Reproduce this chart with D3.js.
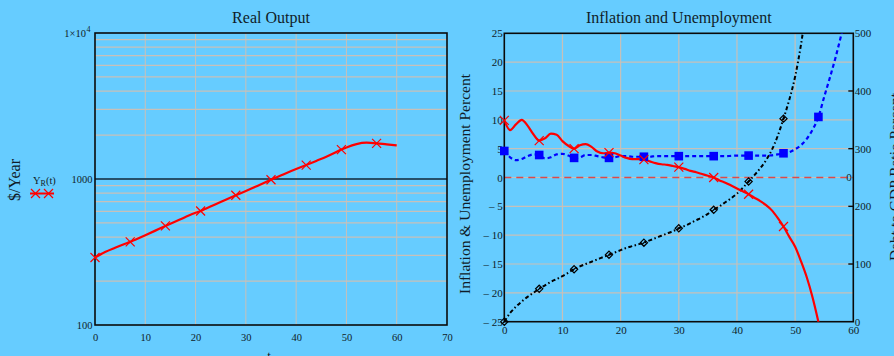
<!DOCTYPE html>
<html>
<head>
<meta charset="utf-8">
<script src="https://cdn.jsdelivr.net/npm/d3@7"></script>
<style>
  html, body { margin: 0; padding: 0; background: #66ccff; }
  svg { display: block; }
  text { font-family: "Liberation Serif", "Times New Roman", serif; fill: #101c28; }
</style>
</head>
<body>
<svg id="chart" width="894" height="356"></svg>
<script>
// ---- Real output Y_R(t), $/Year (log scale) ----
const outputT = [0, 2, 4, 6, 7, 8, 10, 12, 14, 16, 18, 20, 21, 22, 24, 26, 28, 30, 32, 34, 35, 36, 38, 40, 42, 44, 46, 48, 49, 50, 52, 54, 56, 58, 60];
const outputY = [290, 316, 338, 360, 371, 384, 412, 443, 477, 512, 550, 588, 604, 626, 672, 722, 774, 828, 888, 952, 988, 1022, 1096, 1170, 1246, 1330, 1420, 1530, 1590, 1645, 1735, 1772, 1756, 1725, 1698];
const outputXTicks = [0, 10, 20, 30, 40, 50, 60, 70];
const outputYTicks = [100, 1000, 10000];

// ---- Inflation, unemployment (percent) and debt to GDP ratio (percent) ----
const yearT = d3.range(0, 61);
const inflation = [9.9, 8.2, 9.2, 10.0, 9.0, 7.5, 6.4, 6.8, 7.6, 7.4, 6.3, 5.5, 5.0, 5.6, 5.8, 5.3, 4.5, 4.2, 4.3, 4.2,
                   3.8, 3.4, 3.2, 3.2, 3.1, 2.8, 2.5, 2.3, 2.2, 2.0, 1.8, 1.5, 1.15, 0.9, 0.6, 0.3, 0.0, -0.5, -0.9, -1.4,
                   -1.9, -2.4, -2.9, -3.5, -4.1, -4.8, -5.7, -7.0, -8.5, -10.3, -12.0, -14.5, -17.3, -20.8, -25.0, -29.5];
const unemployment = [4.6, 3.5, 3.0, 3.2, 3.7, 4.0, 3.9, 3.3, 3.5, 4.0, 4.1, 3.8, 3.4, 3.5, 3.9, 3.9, 3.7, 3.5, 3.4, 3.5,
                      3.7, 3.7, 3.6, 3.6, 3.6, 3.6, 3.7, 3.7, 3.7, 3.7, 3.7, 3.7, 3.7, 3.7, 3.7, 3.7, 3.7, 3.7, 3.7, 3.75,
                      3.8, 3.8, 3.8, 3.8, 3.8, 3.8, 3.85, 4.0, 4.2, 4.4, 4.9, 5.6, 6.7, 8.3, 10.5, 14.0, 17.4, 21.0, 25.0, 29.0];
const debtRatio = [0, 15, 26, 35, 43, 50, 57, 63, 69, 74, 79, 85, 91, 96, 100, 104, 108, 112, 116, 120,
                   124, 128, 131, 134, 137, 141, 145, 149, 153, 157, 162, 166, 171, 176, 181, 187, 194, 200, 207, 214,
                   222, 232, 243, 254, 266, 280, 298, 322, 352, 385, 425, 480, 550];
const inflationMarks = [0, 6, 12, 18, 24, 30, 36, 42, 48];
const unemploymentMarks = [0, 6, 12, 18, 24, 30, 36, 42, 48, 54];
const debtMarks = [0, 6, 12, 18, 24, 30, 36, 42, 48];
const pctTicks = [-25, -20, -15, -10, -5, 0, 5, 10, 15, 20, 25];
const debtTicks = [0, 100, 200, 300, 400, 500];
const yearTicks = [0, 10, 20, 30, 40, 50, 60];

const svg = d3.select("#chart");
svg.append("rect").attr("width", 894).attr("height", 356).attr("fill", "#66ccff");

const GRID = "#c8c0b8";
const fmtSigned = d => d < 0 ? "\u2013 " + (-d) : String(d);

function styleAxis(g, size) {
  g.select(".domain").remove();
  g.selectAll("text")
    .attr("fill", "#101c28")
    .style("font-family", "'Liberation Serif', 'Times New Roman', serif")
    .style("font-size", size + "px");
}

function crossPath(s) {
  return `M${-s},${-s}L${s},${s}M${-s},${s}L${s},${-s}`;
}

// =================== Left panel: Real Output ===================
const xO = d3.scaleLinear().domain([0, 70]).range([95, 447]);
const yO = d3.scaleLog().domain([100, 10000]).range([325, 33]);
const left = svg.append("g");

// grid
left.append("g").selectAll("line")
  .data(outputXTicks.filter(d => d > 0 && d < 70))
  .join("line")
  .attr("x1", d => xO(d)).attr("x2", d => xO(d))
  .attr("y1", yO(10000)).attr("y2", yO(100))
  .attr("stroke", GRID).attr("stroke-width", 1);
left.append("g").selectAll("line")
  .data(yO.ticks().filter(d => outputYTicks.indexOf(d) < 0))
  .join("line")
  .attr("x1", xO(0)).attr("x2", xO(70))
  .attr("y1", d => yO(d)).attr("y2", d => yO(d))
  .attr("stroke", GRID).attr("stroke-width", 1.2);
left.append("line")
  .attr("x1", xO(0)).attr("x2", xO(70))
  .attr("y1", yO(1000)).attr("y2", yO(1000))
  .attr("stroke", "#26506a").attr("stroke-width", 2);

// axes labels
const axO = left.append("g").attr("transform", `translate(0,${yO(100)})`)
  .call(d3.axisBottom(xO).tickValues(outputXTicks).tickSize(0).tickPadding(9));
styleAxis(axO, 10.5);
const ayO = left.append("g").attr("transform", `translate(${xO(0)},0)`)
  .call(d3.axisLeft(yO).tickValues(outputYTicks.slice(0, 2)).tickFormat(d3.format("d")).tickSize(0).tickPadding(2.5));
styleAxis(ayO, 10.5);
const top10k = left.append("text")
  .attr("x", 86).attr("y", yO(10000) + 4)
  .attr("text-anchor", "end").style("font-size", "10.5px");
top10k.text("1\u00d710");
left.append("text").attr("x", 86.5).attr("y", yO(10000) - 1)
  .style("font-size", "8px").text("4");

// frame
left.append("rect")
  .attr("x", xO(0)).attr("y", yO(10000))
  .attr("width", xO(70) - xO(0)).attr("height", yO(100) - yO(10000))
  .attr("fill", "none").attr("stroke", "#0a0a0a").attr("stroke-width", 1.6);

// series
const outData = outputT.map((t, i) => ({ t, v: outputY[i] }));
left.append("path").datum(outData)
  .attr("fill", "none").attr("stroke", "#ff0000").attr("stroke-width", 2.2)
  .attr("d", d3.line().x(d => xO(d.t)).y(d => yO(d.v)).curve(d3.curveMonotoneX));
left.append("g").selectAll("path")
  .data(outData.filter(d => d.t % 7 === 0))
  .join("path")
  .attr("transform", d => `translate(${xO(d.t)},${yO(d.v)})`)
  .attr("d", crossPath(4.5))
  .attr("stroke", "#ff0000").attr("stroke-width", 1.2).attr("fill", "none");

// titles
left.append("text").attr("x", (xO(0) + xO(70)) / 2).attr("y", 23)
  .attr("text-anchor", "middle").style("font-size", "16px").text("Real Output");
left.append("text").attr("transform", "translate(20,180) rotate(-90)")
  .attr("text-anchor", "middle").style("font-size", "16px").text("$/Year");
left.append("text").attr("x", xO(35) - 2).attr("y", 360)
  .attr("text-anchor", "middle").style("font-size", "13px").text("t");

// legend
const lg = left.append("text").attr("x", 33).attr("y", 183.5).style("font-size", "10.5px");
lg.append("tspan").text("Y");
lg.append("tspan").attr("dy", 2.5).style("font-size", "8px").text("R");
lg.append("tspan").attr("dy", -2.5).style("font-size", "10.5px").text("(t)");
left.append("line").attr("x1", 30).attr("x2", 54).attr("y1", 193.5).attr("y2", 193.5)
  .attr("stroke", "#ff0000").attr("stroke-width", 2);
left.append("g").selectAll("path").data([35.5, 48.5]).join("path")
  .attr("transform", d => `translate(${d},193.5)`)
  .attr("d", crossPath(4.5))
  .attr("stroke", "#ff0000").attr("stroke-width", 1.2);

// =================== Right panel: Inflation and Unemployment ===================
const xR = d3.scaleLinear().domain([0, 60]).range([504.3, 853.3]);
const yP = d3.scaleLinear().domain([-25, 25]).range([321.7, 33.3]);
const yD = d3.scaleLinear().domain([0, 500]).range([321.7, 33.3]);
const right = svg.append("g");

right.append("defs").append("clipPath").attr("id", "clipR")
  .append("rect")
  .attr("x", xR(0)).attr("y", yP(25))
  .attr("width", xR(60) - xR(0)).attr("height", yP(-25) - yP(25));

// grid
right.append("g").selectAll("line")
  .data(yearTicks.filter(d => d > 0 && d < 60))
  .join("line")
  .attr("x1", d => xR(d)).attr("x2", d => xR(d))
  .attr("y1", yP(25)).attr("y2", yP(-25))
  .attr("stroke", GRID).attr("stroke-width", 1.2);
right.append("g").selectAll("line")
  .data(pctTicks.filter(d => d > -25 && d < 25))
  .join("line")
  .attr("x1", xR(0)).attr("x2", xR(60))
  .attr("y1", d => yP(d)).attr("y2", d => yP(d))
  .attr("stroke", GRID).attr("stroke-width", 1.2);

// zero marker line
right.append("line")
  .attr("x1", xR(0)).attr("x2", xR(60))
  .attr("y1", yP(0)).attr("y2", yP(0))
  .attr("stroke", "#dc4a4a").attr("stroke-width", 1.6)
  .attr("stroke-dasharray", "7,5");

// frame
right.append("rect")
  .attr("x", xR(0)).attr("y", yP(25))
  .attr("width", xR(60) - xR(0)).attr("height", yP(-25) - yP(25))
  .attr("fill", "none").attr("stroke", "#0a0a0a").attr("stroke-width", 1.6);

// right axis ticks (inside)
right.append("g").selectAll("line")
  .data(debtTicks.filter(d => d > 0 && d < 500))
  .join("line")
  .attr("x1", xR(60) - 5).attr("x2", xR(60))
  .attr("y1", d => yD(d)).attr("y2", d => yD(d))
  .attr("stroke", "#0a0a0a").attr("stroke-width", 1.4);

// axes labels
const axR = right.append("g").attr("transform", `translate(0,${yP(-25)})`)
  .call(d3.axisBottom(xR).tickValues(yearTicks).tickSize(0).tickPadding(5));
styleAxis(axR, 11);
const ayP = right.append("g").attr("transform", `translate(${xR(0)},0)`)
  .call(d3.axisLeft(yP).tickValues(pctTicks).tickFormat(fmtSigned).tickSize(0).tickPadding(1.5));
styleAxis(ayP, 11);
const ayD = right.append("g").attr("transform", `translate(${xR(60)},0)`)
  .call(d3.axisRight(yD).tickValues(debtTicks).tickSize(0).tickPadding(1.5));
styleAxis(ayD, 11);
right.append("text").attr("x", xR(60) - 1.5).attr("y", yP(0)).attr("dy", "0.35em")
  .attr("text-anchor", "end").style("font-size", "11px").text("0");

// series
const plot = right.append("g").attr("clip-path", "url(#clipR)");
const infData = inflation.map((v, i) => ({ t: yearT[i], v }));
const uneData = unemployment.map((v, i) => ({ t: yearT[i], v }));
const debtData = debtRatio.map((v, i) => ({ t: yearT[i], v }));

plot.append("path").datum(debtData)
  .attr("fill", "none").attr("stroke", "#000").attr("stroke-width", 2)
  .attr("stroke-dasharray", "4,2.5,1.5,2.5")
  .attr("d", d3.line().x(d => xR(d.t)).y(d => yD(d.v)).curve(d3.curveMonotoneX));
plot.append("path").datum(uneData)
  .attr("fill", "none").attr("stroke", "#0000ff").attr("stroke-width", 2.2)
  .attr("stroke-dasharray", "4,3")
  .attr("d", d3.line().x(d => xR(d.t)).y(d => yP(d.v)).curve(d3.curveMonotoneX));
plot.append("path").datum(infData)
  .attr("fill", "none").attr("stroke", "#ff0000").attr("stroke-width", 2.2)
  .attr("d", d3.line().x(d => xR(d.t)).y(d => yP(d.v)).curve(d3.curveMonotoneX));

// markers
right.append("g").selectAll("path")
  .data(debtData.filter(d => debtMarks.includes(d.t)))
  .join("path")
  .attr("transform", d => `translate(${xR(d.t)},${yD(d.v)})`)
  .attr("d", "M0,-3.6L3.6,0L0,3.6L-3.6,0Z M1.6,-1.6L-1.6,1.6")
  .attr("fill", "none").attr("stroke", "#000").attr("stroke-width", 1.2);
right.append("g").selectAll("rect")
  .data(uneData.filter(d => unemploymentMarks.includes(d.t)))
  .join("rect")
  .attr("x", d => xR(d.t) - 4.3).attr("y", d => yP(d.v) - 4.3)
  .attr("width", 8.6).attr("height", 8.6)
  .attr("fill", "#0000ff");
right.append("g").selectAll("path")
  .data(infData.filter(d => inflationMarks.includes(d.t)))
  .join("path")
  .attr("transform", d => `translate(${xR(d.t)},${yP(d.v)})`)
  .attr("d", crossPath(4.5))
  .attr("stroke", "#ff0000").attr("stroke-width", 1.2).attr("fill", "none");

// titles
right.append("text").attr("x", (xR(0) + xR(60)) / 2).attr("y", 23)
  .attr("text-anchor", "middle").style("font-size", "16px").text("Inflation and Unemployment");
right.append("text").attr("transform", "translate(470,184) rotate(-90)")
  .attr("text-anchor", "middle").style("font-size", "15.5px").text("Inflation & Unemployment Percent");
right.append("text").attr("transform", "translate(900,177) rotate(-90)")
  .attr("text-anchor", "middle").style("font-size", "15.5px").text("Debt to GDP Ratio Percent");
</script>
</body>
</html>
